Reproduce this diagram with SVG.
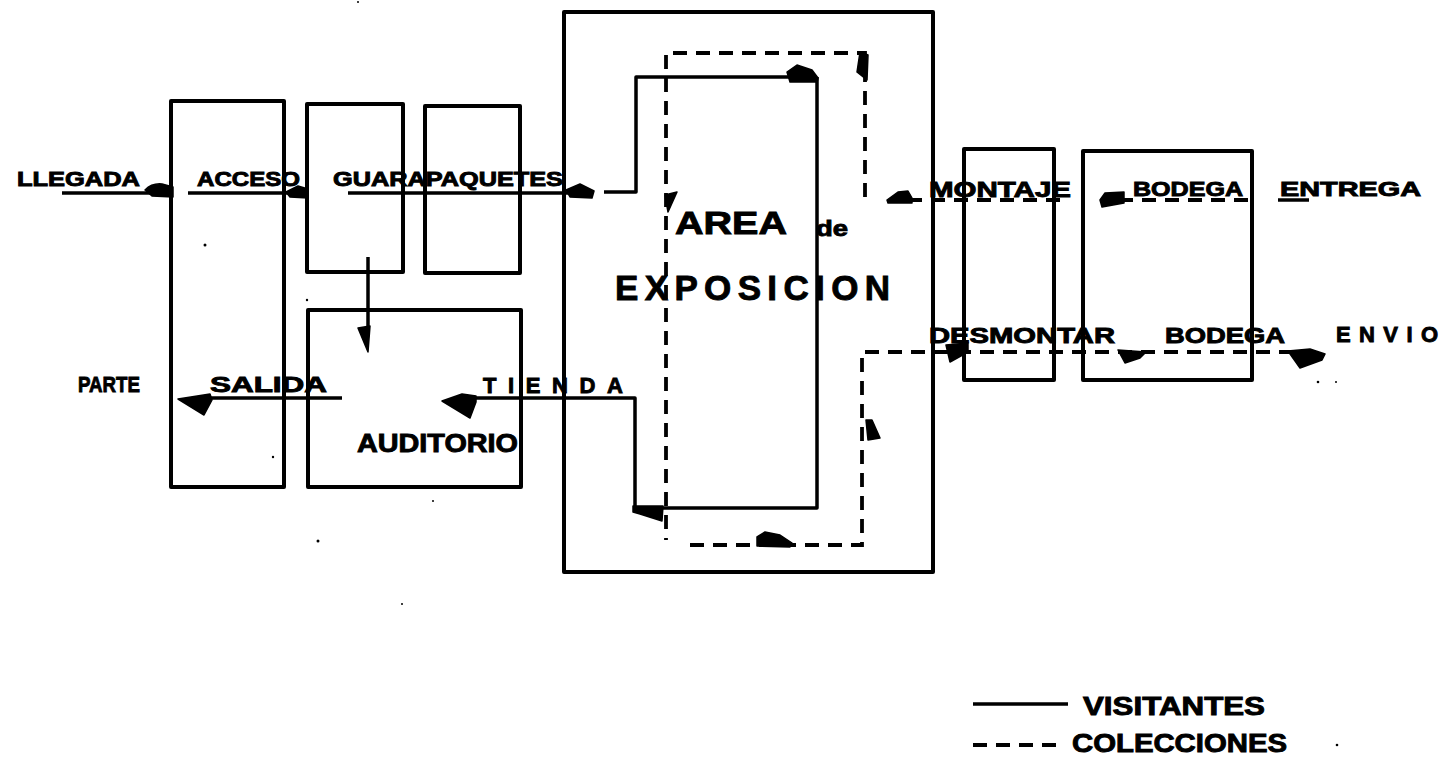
<svg xmlns="http://www.w3.org/2000/svg" width="1441" height="757" viewBox="0 0 1441 757">
<style>
.bx{fill:none;stroke:#000;stroke-width:4;stroke-linejoin:round}
.vl{fill:none;stroke:#000;stroke-width:3.5;stroke-linejoin:round}
.cl{fill:none;stroke:#000;stroke-width:3.8;stroke-dasharray:14 9}
.ah{fill:#000;stroke:#000;stroke-width:1.5;stroke-linejoin:round}
.dot{fill:#000}
text{font-family:"Liberation Sans",Arial,sans-serif;font-weight:bold;fill:#000;stroke:#000;stroke-width:0.9px}
.t19{font-size:20px}
.t21{font-size:22px}
.t24{font-size:25px}
</style>
<rect width="1441" height="757" fill="#fff"/>

<g id="acceso"><rect class="bx" x="171" y="101" width="113" height="386"/><text class="t19" x="197" y="186" textLength="103" lengthAdjust="spacingAndGlyphs">ACCESO</text></g>
<g id="guarda"><rect class="bx" x="307" y="104" width="96" height="168"/></g>
<g id="paquetes"><rect class="bx" x="425" y="106" width="95" height="167"/><text class="t19" x="333" y="186" textLength="230" lengthAdjust="spacingAndGlyphs">GUARAPAQUETES</text></g>
<g id="auditorio"><rect class="bx" x="308" y="310" width="213" height="177"/><text class="t24" x="357" y="452" textLength="161" lengthAdjust="spacingAndGlyphs">AUDITORIO</text></g>
<g id="exposicion"><rect class="bx" x="564" y="12" width="369" height="560"/>
<text x="675" y="234" font-size="32" textLength="112" lengthAdjust="spacingAndGlyphs">AREA</text>
<text x="816" y="236" font-size="22" textLength="32" lengthAdjust="spacingAndGlyphs">de</text>
<text x="615" y="300" font-size="35" textLength="275" lengthAdjust="spacing">EXPOSICION</text></g>
<g id="montaje"><rect class="bx" x="964" y="149" width="90" height="231"/><text class="t21" x="929" y="197" textLength="142" lengthAdjust="spacingAndGlyphs">MONTAJE</text><text class="t21" x="929" y="343" textLength="186" lengthAdjust="spacingAndGlyphs">DESMONTAR</text></g>
<g id="bodega"><rect class="bx" x="1083" y="151" width="169" height="229"/><text class="t19" x="1133" y="196" textLength="110" lengthAdjust="spacingAndGlyphs">BODEGA</text><text class="t21" x="1165" y="343" textLength="120" lengthAdjust="spacingAndGlyphs">BODEGA</text></g>
<g id="llegada"><text class="t19" x="17" y="186" textLength="123" lengthAdjust="spacingAndGlyphs">LLEGADA</text></g>
<g id="parte"><text class="t21" x="78" y="392" textLength="62" lengthAdjust="spacingAndGlyphs">PARTE</text></g>
<g id="salida"><text class="t21" x="210" y="392" textLength="117" lengthAdjust="spacingAndGlyphs">SALIDA</text></g>
<g id="tienda"><text class="t21" x="483" y="393" textLength="140" lengthAdjust="spacing">TIENDA</text></g>
<g id="entrega"><text class="t19" x="1280" y="196" textLength="141" lengthAdjust="spacingAndGlyphs">ENTREGA</text></g>
<g id="envio"><text class="t21" x="1336" y="342" textLength="102" lengthAdjust="spacing">ENVIO</text></g>

<g id="connectors">
<path class="vl" d="M62,193 H150"/>
<path class="ah" d="M145,190 Q152,183 162,184 L173,187 L173,197 L152,196 Z"/>
<path class="vl" d="M188,193 H288"/>
<path class="ah" d="M286,192 L298,186 L308,189 L308,198 L290,197 Z"/>
<path class="vl" d="M348,193 H568"/>
<path class="ah" d="M566,190 L580,184 L594,191 L592,198 L570,197 Z"/>
<path class="vl" d="M604,192 H636 V77 H790"/>
<path class="ah" d="M787,72 L797,65 L812,70 L818,78 L817,82 L790,82 Z"/>
<path class="vl" d="M817,77 V508 H662"/>
<path class="ah" d="M633,506 L663,506 L662,521 L640,514 L633,512 Z"/>
<path class="vl" d="M635,510 V398 H474"/>
<path class="ah" d="M442,401 L462,394 L476,396 L476,402 L470,418 Z"/>
<path class="vl" d="M342,398 H205"/>
<path class="ah" d="M178,399 L210,394 L212,400 L204,415 Z"/>
<path class="vl" d="M368,257 V332"/>
<path class="ah" d="M358,328 L370,326 L368,352 Z"/>
<path class="vl" d="M1278,200 H1309"/>

<path class="cl" d="M865,197 V53 H666 V540"/>
<path class="cl" d="M690,545 H862 V352 H1290"/>
<path class="cl" d="M1248,200 H1124"/>
<path class="cl" d="M1060,200 H912"/>
<path class="ah" d="M860,52 L868,55 L867,80 L857,72 Z"/>
<path class="ah" d="M665,195 L677,192 L668,212 Z"/>
<path class="ah" d="M757,537 L765,532 L780,535 L792,543 L790,547 L757,546 Z"/>
<path class="ah" d="M866,420 L872,420 L880,438 L868,440 Z"/>
<path class="ah" d="M887,200 L898,192 L908,191 L912,198 L912,203 L888,203 Z"/>
<path class="ah" d="M1100,200 L1105,193 L1124,192 L1124,203 L1102,207 Z"/>
<path class="ah" d="M946,345 L968,343 L968,352 L950,362 Z"/>
<path class="ah" d="M1118,350 L1146,352 L1140,358 L1125,363 Z"/>
<path class="ah" d="M1288,351 L1310,349 L1325,354 L1322,360 L1300,368 Z"/>
</g>

<g id="legend">
<path class="vl" d="M973,704 H1068" stroke-width="4"/>
<text class="t24" x="1083" y="715" textLength="182" lengthAdjust="spacingAndGlyphs">VISITANTES</text>
<path class="cl" d="M973,745 H1062"/>
<text class="t24" x="1072" y="752" textLength="215" lengthAdjust="spacingAndGlyphs">COLECCIONES</text>
</g>

<g id="specks">
<circle class="dot" cx="205" cy="245" r="1.5"/>
<circle class="dot" cx="273" cy="457" r="1.2"/>
<circle class="dot" cx="307" cy="300" r="1.2"/>
<circle class="dot" cx="318" cy="541" r="1.5"/>
<circle class="dot" cx="433" cy="501" r="1"/>
<circle class="dot" cx="402" cy="604" r="1"/>
<circle class="dot" cx="1318" cy="382" r="1.3"/>
<circle class="dot" cx="1336" cy="382" r="1"/>
<circle class="dot" cx="1337" cy="745" r="1.3"/>
<circle class="dot" cx="358" cy="2" r="1"/>
</g>
</svg>
